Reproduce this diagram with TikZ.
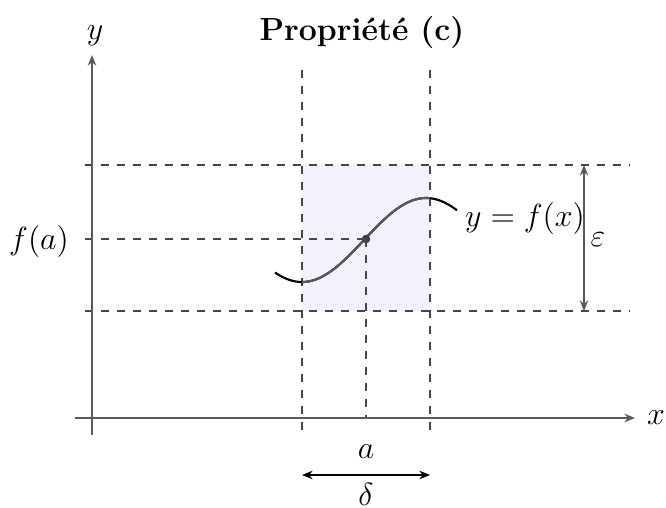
\documentclass[tikz,border=0pt]{standalone}
\usetikzlibrary{arrows.meta}
\definecolor{boxfill}{RGB}{242,242,253}
\definecolor{axisgray}{RGB}{90,90,90}
\definecolor{dashgray}{RGB}{70,70,70}
\tikzset{
  axisline/.style={draw=axisgray, line width=0.5pt, -{Stealth[length=4pt,width=3.2pt]}},
  guide/.style={draw=dashgray, dashed, line width=0.4pt},
  dimarrow/.style={line width=0.5pt, {Stealth[length=4pt,width=3.2pt]}-{Stealth[length=4pt,width=3.2pt]}},
  lbl/.style={inner sep=0pt, font=\large},
  pt/.style={coordinate}
}
\begin{document}
\begin{tikzpicture}[x=0.375pt, y=-0.375pt]
\useasboundingbox (0,0) rectangle (666,508);
% shaded box
\fill[boxfill] (302,165) rectangle (430,311);
% points
\node[pt] (xs) at (75,418) {};
\node[pt] (xe) at (635,418) {};
\node[pt] (ys) at (92,435) {};
\node[pt] (ye) at (92,55) {};
\node[pt] (v1t) at (302,70) {};
\node[pt] (v1b) at (302,430) {};
\node[pt] (v2t) at (430,70) {};
\node[pt] (v2b) at (430,430) {};
\node[pt] (h1l) at (85,165) {};
\node[pt] (h1r) at (630,165) {};
\node[pt] (h2l) at (85,311) {};
\node[pt] (h2r) at (630,311) {};
\node[pt] (hal) at (85,239) {};
\node[pt] (ab) at (366,418) {};
\node[pt] (et) at (584,165) {};
\node[pt] (eb) at (584,311) {};
\node[pt] (dl) at (302,475) {};
\node[pt] (dr) at (430,475) {};
% guides
\draw[guide] (v1t) -- (v1b);
\draw[guide] (v2t) -- (v2b);
\draw[guide] (h1l) -- (h1r);
\draw[guide] (h2l) -- (h2r);
% curve
\draw[line width=0.8pt, black] plot[domain=275:457, samples=120, smooth] (\x, {240+42*cos((\x-302)/124*180)});
\begin{scope}
\clip (302,165) rectangle (430,311);
\draw[line width=0.8pt, black!65] plot[domain=275:457, samples=120, smooth] (\x, {240+42*cos((\x-302)/124*180)});
\end{scope}
% point
\node[circle, fill=black!75, inner sep=0pt, minimum size=3.2pt] (P) at (366,239) {};
\draw[guide] (hal) -- (P.center);
\draw[guide] (P.center) -- (ab);
% axes
\draw[axisline] (xs) -- (xe);
\draw[axisline] (ys) -- (ye);
% dimension arrows
\draw[dimarrow, draw=axisgray] (et) -- (eb);
\draw[dimarrow] (dl) -- (dr);
% labels
\node[lbl] (ylab) at (95,36) {$y$};
\node[lbl] (xlab) at (656,418) {$x$};
\node[lbl] (fa) at (39,241) {$f(a)$};
\node[lbl] (cur) at (525,218) {$y=f(x)$};
\node[lbl] (eps) at (598,240) {$\varepsilon$};
\node[lbl] (alab) at (366,452) {$a$};
\node[lbl] (del) at (366,494) {$\delta$};
\node[lbl] (title) at (362,33) {\bfseries Propriété (c)};
\end{tikzpicture}
\end{document}
